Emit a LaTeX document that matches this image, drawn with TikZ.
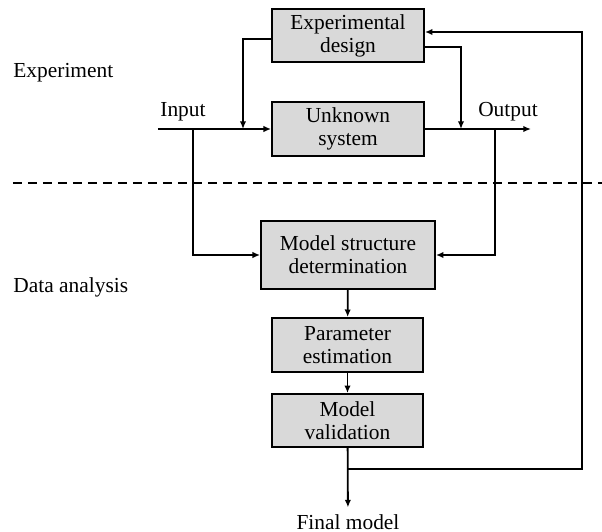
\documentclass[tikz,border=0pt]{standalone}
\usepackage{fontspec}
\setmainfont{Liberation Serif}
\usetikzlibrary{arrows.meta,positioning}

\begin{document}
\begin{tikzpicture}[
                x=0.5pt, y=-0.5pt,
                font=\fontsize{10.7}{11.5}\selectfont,
                block/.style={rectangle, draw, fill=black!15, line width=0.9pt,
                        align=center, inner sep=0pt},
                edge/.style={draw, line width=0.9pt, -{Latex[length=3.8pt,width=3.2pt]}},
                side/.style={anchor=west, inner sep=0pt},
                divider/.style={draw, line width=0.9pt, dash pattern=on 4.5pt off 3pt},
            ]
            \useasboundingbox (0,0) rectangle (602,532);

            % ── Experiment ────────────────────────────────────────
            \node[side] (exptag) at (13,73) {Experiment};
            \node[block, minimum width=76pt, minimum height=26.5pt] (design) at (348,35.5) {Experimental\\design};
            \node[block, minimum width=76pt, minimum height=27pt]   (system) at (348,129)  {Unknown\\system};

            \coordinate (in0)  at (158,129);
            \coordinate (inj)  at (193,129);
            \coordinate (dinj) at (243,129);
            \coordinate (dout) at (461,129);
            \coordinate (outj) at (495,129);
            \coordinate (out0) at (531,129);
            \node (intag)  at (183,112) {Input};
            \node (outtag) at (508,112) {Output};

            \draw[edge] (in0) -- (system);
            \draw[edge] (system) -- (out0);
            \draw[edge] ([yshift=-1.75pt]design.west) -| (dinj);
            \draw[edge] ([yshift=-5.75pt]design.east) -| (dout);

            % ── divider ───────────────────────────────────────────
            \coordinate (divl) at (13,183);
            \coordinate (divr) at (602,183);
            \draw[divider] (divl) -- (divr);

            % ── Data analysis ─────────────────────────────────────
            \node[side] (datatag) at (13,287) {Data analysis};
            \node[block, minimum width=87pt, minimum height=34pt]   (structure)  at (348,255)   {Model structure\\determination};
            \node[block, minimum width=75.5pt, minimum height=27pt] (estimation) at (347.5,345) {Parameter\\estimation};
            \node[block, minimum width=75.5pt, minimum height=26.5pt] (validation) at (347.5,420.5) {Model\\validation};
            \node (final) at (348,522) {Final model};

            \draw[edge] (inj) |- (structure);
            \draw[edge] (outj) |- (structure);
            \draw[edge] (structure) -- (estimation);
            \draw[edge] (estimation) -- (validation);
            \draw[edge] (validation) -- (final);

            % feedback to the design block
            \coordinate (fbj) at (348,469);
            \coordinate (fbr) at (582,469);
            \draw[edge] (fbj) -- (fbr) |- ([yshift=1.75pt]design.east);
        \end{tikzpicture}
\end{document}
